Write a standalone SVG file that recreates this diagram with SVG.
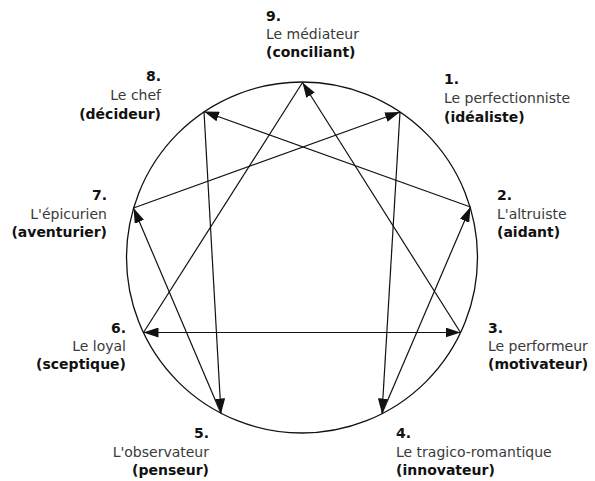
<svg xmlns="http://www.w3.org/2000/svg" width="595" height="481" viewBox="0 0 595 481">
<style>
text{font-family:"DejaVu Sans","Liberation Sans",sans-serif;font-size:14px}
.n{fill:#3a3a3a}
.b{font-weight:bold;fill:#111}
.e{text-anchor:end}
.c{fill:none;stroke:#111;stroke-width:1.3}
.l{fill:none;stroke:#111;stroke-width:1.2}
</style>
<defs>
<marker id="ah" viewBox="0 0 15 10" refX="15" refY="5" markerWidth="15" markerHeight="10" orient="auto-start-reverse" markerUnits="userSpaceOnUse">
<path d="M0,0 L15,5 L0,10 z" fill="#111"/>
</marker>
</defs>
<rect width="595" height="481" fill="#fff"/>
<circle class="c" cx="302" cy="257.5" r="175.5"/>
<g id="connectors">
<line class="l" x1="400" y1="112" x2="382" y2="413.5" marker-end="url(#ah)"/>
<line class="l" x1="382" y1="413.5" x2="470.5" y2="207" marker-end="url(#ah)"/>
<line class="l" x1="470.5" y1="207" x2="204" y2="111.5" marker-end="url(#ah)"/>
<line class="l" x1="204" y1="111.5" x2="221" y2="413.5" marker-end="url(#ah)"/>
<line class="l" x1="221" y1="413.5" x2="133.5" y2="208" marker-end="url(#ah)"/>
<line class="l" x1="133.5" y1="208" x2="400" y2="112" marker-end="url(#ah)"/>
<line class="l" x1="460.5" y1="332.5" x2="302.5" y2="82.5" marker-end="url(#ah)"/>
<line class="l" x1="302.5" y1="82.5" x2="143.5" y2="332.5"/>
<line class="l" x1="143.5" y1="332.5" x2="460.5" y2="332.5" marker-start="url(#ah)" marker-end="url(#ah)"/>
</g>
<g id="node9">
<text class="b" x="266" y="21">9.</text>
<text class="n" x="266" y="39">Le médiateur</text>
<text class="b" x="266" y="57">(conciliant)</text>
</g>
<g id="node1">
<text class="b" x="444" y="84">1.</text>
<text class="n" x="444" y="103">Le perfectionniste</text>
<text class="b" x="444" y="122">(idéaliste)</text>
</g>
<g id="node2">
<text class="b" x="497" y="200">2.</text>
<text class="n" x="497" y="219">L'altruiste</text>
<text class="b" x="497" y="237">(aidant)</text>
</g>
<g id="node3">
<text class="b" x="488" y="333">3.</text>
<text class="n" x="488" y="351">Le performeur</text>
<text class="b" x="488" y="369">(motivateur)</text>
</g>
<g id="node4">
<text class="b" x="396" y="438">4.</text>
<text class="n" x="396" y="456.5">Le tragico-romantique</text>
<text class="b" x="396" y="474.5">(innovateur)</text>
</g>
<g id="node5">
<text class="b e" x="209" y="438">5.</text>
<text class="n e" x="209" y="456.5">L'observateur</text>
<text class="b e" x="209" y="474.5">(penseur)</text>
</g>
<g id="node6">
<text class="b e" x="126" y="333">6.</text>
<text class="n e" x="126" y="351">Le loyal</text>
<text class="b e" x="126" y="369">(sceptique)</text>
</g>
<g id="node7">
<text class="b e" x="107" y="200">7.</text>
<text class="n e" x="107" y="219">L'épicurien</text>
<text class="b e" x="107" y="237">(aventurier)</text>
</g>
<g id="node8">
<text class="b e" x="161" y="81">8.</text>
<text class="n e" x="161" y="100">Le chef</text>
<text class="b e" x="161" y="119">(décideur)</text>
</g>
</svg>
